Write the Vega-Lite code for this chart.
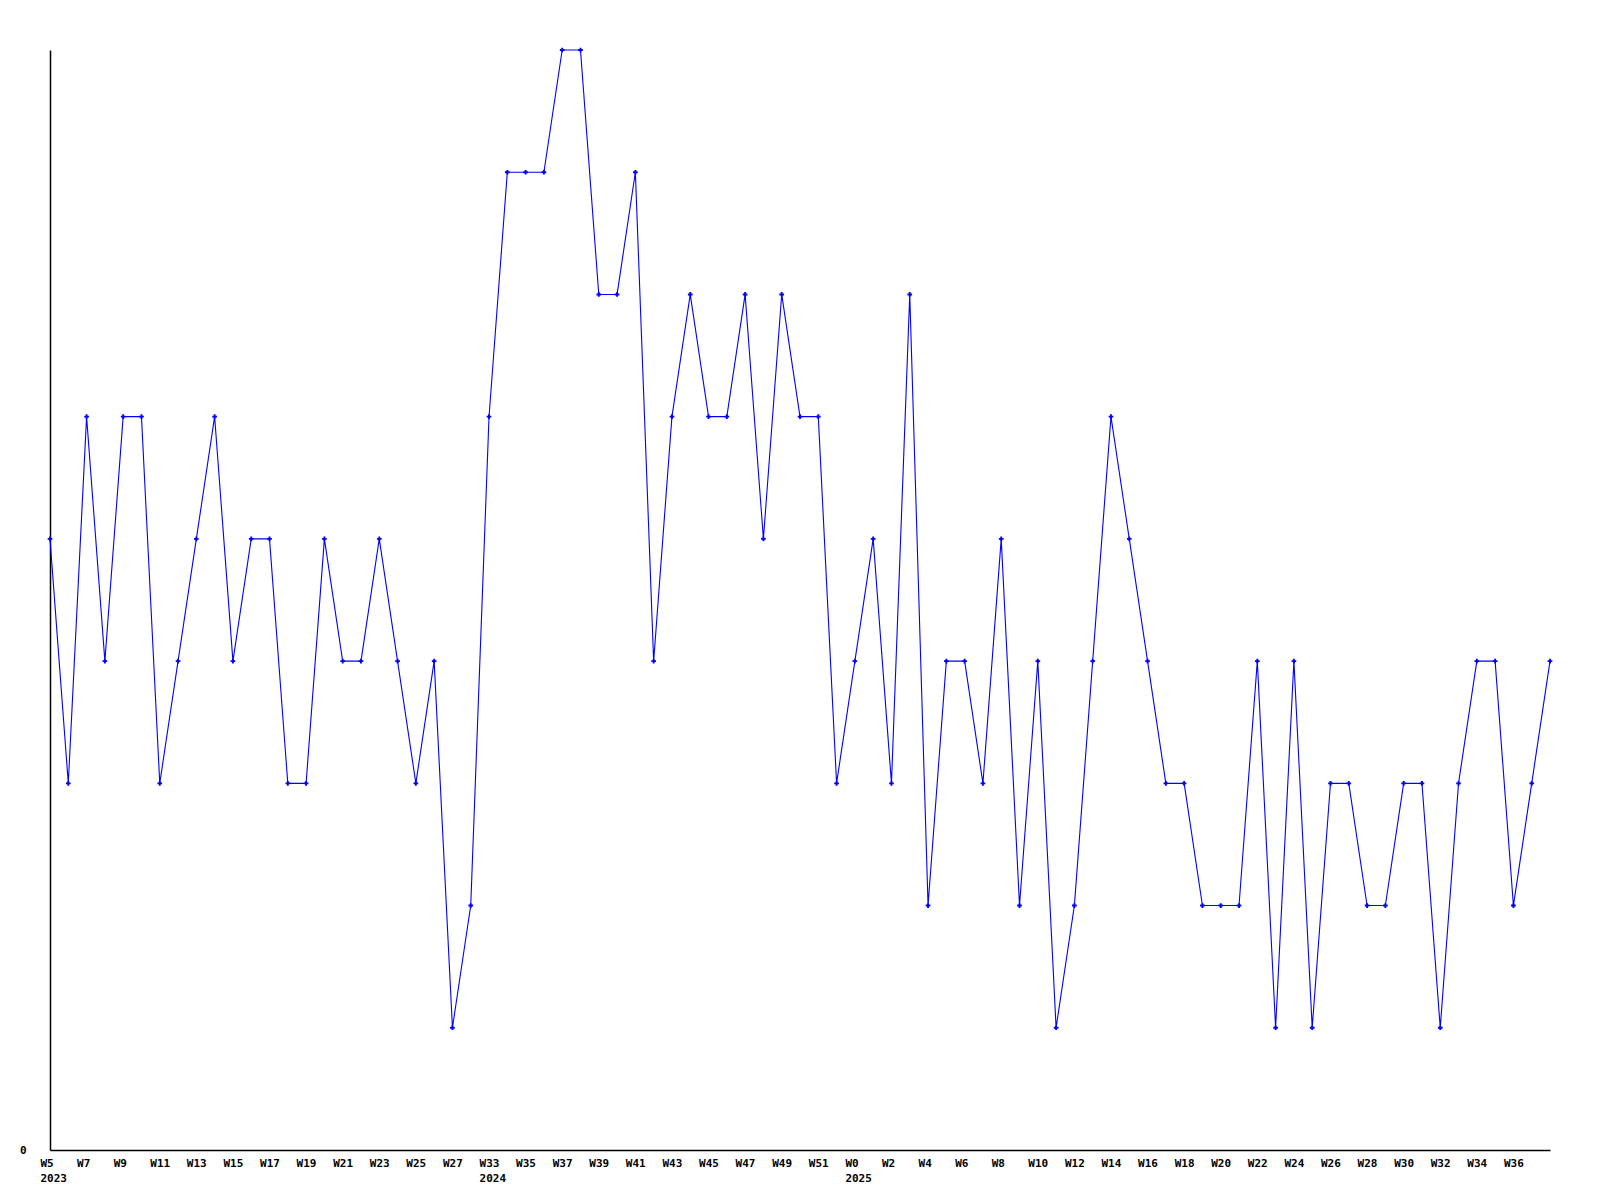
{
  "$schema": "https://vega.github.io/schema/vega-lite/v6.json",
  "width": 1500,
  "height": 1100,
  "autosize": {"type": "none"},
  "padding": {"left": 50, "top": 50, "right": 50, "bottom": 50},
  "background": "white",
  "config": {"view": {"stroke": null}, "font": "DejaVu Sans Mono"},
  "data": {"values": [
    {"key": "2023-W5", "v": 5}, {"key": "2023-W6", "v": 3}, {"key": "2023-W7", "v": 6}, {"key": "2023-W8", "v": 4},
    {"key": "2023-W9", "v": 6}, {"key": "2023-W10", "v": 6}, {"key": "2023-W11", "v": 3}, {"key": "2023-W12", "v": 4},
    {"key": "2023-W13", "v": 5}, {"key": "2023-W14", "v": 6}, {"key": "2023-W15", "v": 4}, {"key": "2023-W16", "v": 5},
    {"key": "2023-W17", "v": 5}, {"key": "2023-W18", "v": 3}, {"key": "2023-W19", "v": 3}, {"key": "2023-W20", "v": 5},
    {"key": "2023-W21", "v": 4}, {"key": "2023-W22", "v": 4}, {"key": "2023-W23", "v": 5}, {"key": "2023-W24", "v": 4},
    {"key": "2023-W25", "v": 3}, {"key": "2023-W26", "v": 4}, {"key": "2023-W27", "v": 1}, {"key": "2023-W28", "v": 2},
    {"key": "2024-W33", "v": 6}, {"key": "2024-W34", "v": 8}, {"key": "2024-W35", "v": 8}, {"key": "2024-W36", "v": 8},
    {"key": "2024-W37", "v": 9}, {"key": "2024-W38", "v": 9}, {"key": "2024-W39", "v": 7}, {"key": "2024-W40", "v": 7},
    {"key": "2024-W41", "v": 8}, {"key": "2024-W42", "v": 4}, {"key": "2024-W43", "v": 6}, {"key": "2024-W44", "v": 7},
    {"key": "2024-W45", "v": 6}, {"key": "2024-W46", "v": 6}, {"key": "2024-W47", "v": 7}, {"key": "2024-W48", "v": 5},
    {"key": "2024-W49", "v": 7}, {"key": "2024-W50", "v": 6}, {"key": "2024-W51", "v": 6}, {"key": "2024-W52", "v": 3},
    {"key": "2025-W0", "v": 4}, {"key": "2025-W1", "v": 5}, {"key": "2025-W2", "v": 3}, {"key": "2025-W3", "v": 7},
    {"key": "2025-W4", "v": 2}, {"key": "2025-W5", "v": 4}, {"key": "2025-W6", "v": 4}, {"key": "2025-W7", "v": 3},
    {"key": "2025-W8", "v": 5}, {"key": "2025-W9", "v": 2}, {"key": "2025-W10", "v": 4}, {"key": "2025-W11", "v": 1},
    {"key": "2025-W12", "v": 2}, {"key": "2025-W13", "v": 4}, {"key": "2025-W14", "v": 6}, {"key": "2025-W15", "v": 5},
    {"key": "2025-W16", "v": 4}, {"key": "2025-W17", "v": 3}, {"key": "2025-W18", "v": 3}, {"key": "2025-W19", "v": 2},
    {"key": "2025-W20", "v": 2}, {"key": "2025-W21", "v": 2}, {"key": "2025-W22", "v": 4}, {"key": "2025-W23", "v": 1},
    {"key": "2025-W24", "v": 4}, {"key": "2025-W25", "v": 1}, {"key": "2025-W26", "v": 3}, {"key": "2025-W27", "v": 3},
    {"key": "2025-W28", "v": 2}, {"key": "2025-W29", "v": 2}, {"key": "2025-W30", "v": 3}, {"key": "2025-W31", "v": 3},
    {"key": "2025-W32", "v": 1}, {"key": "2025-W33", "v": 3}, {"key": "2025-W34", "v": 4}, {"key": "2025-W35", "v": 4},
    {"key": "2025-W36", "v": 2}, {"key": "2025-W37", "v": 3}, {"key": "2025-W38", "v": 4}
  ]},
  "encoding": {
    "x": {
      "field": "key", "type": "ordinal", "sort": null,
      "scale": {"type": "point", "padding": 0},
      "axis": {
        "title": null, "domainColor": "black", "domainWidth": 1.5, "ticks": false, "labelAngle": 0,
        "labelAlign": "left", "labelOffset": -10, "labelBaseline": "top", "labelPadding": 7,
        "labelFont": "DejaVu Sans Mono", "labelFontWeight": "bold", "labelFontSize": 11, "labelColor": "black",
        "labelLineHeight": 15, "labelOverlap": false, "labelBound": false, "labelFlush": false,
        "labelExpr": "(split(datum.value,'-W')[0]=='2025' ? (toNumber(split(datum.value,'-W')[1])%2==0 && toNumber(split(datum.value,'-W')[1])<38) : toNumber(split(datum.value,'-W')[1])%2==1) ? ((datum.value=='2023-W5'||datum.value=='2024-W33'||datum.value=='2025-W0') ? ['W'+split(datum.value,'-W')[1], split(datum.value,'-W')[0]] : 'W'+split(datum.value,'-W')[1]) : ''"
      }
    },
    "y": {
      "field": "v", "type": "quantitative",
      "scale": {"domain": [0, 9], "nice": false, "zero": true},
      "axis": {
        "title": null, "values": [0], "grid": false, "ticks": false, "domainColor": "black", "domainWidth": 1.5,
        "labelPadding": 24, "labelFont": "DejaVu Sans Mono", "labelFontWeight": "bold", "labelFontSize": 11,
        "labelColor": "black", "labelBaseline": "middle"
      }
    }
  },
  "layer": [
    {"mark": {"type": "line", "color": "#0000ff", "strokeWidth": 1.1}},
    {"mark": {"type": "point", "shape": "cross", "filled": true, "color": "#0000ff", "size": 22, "opacity": 1}}
  ]
}
